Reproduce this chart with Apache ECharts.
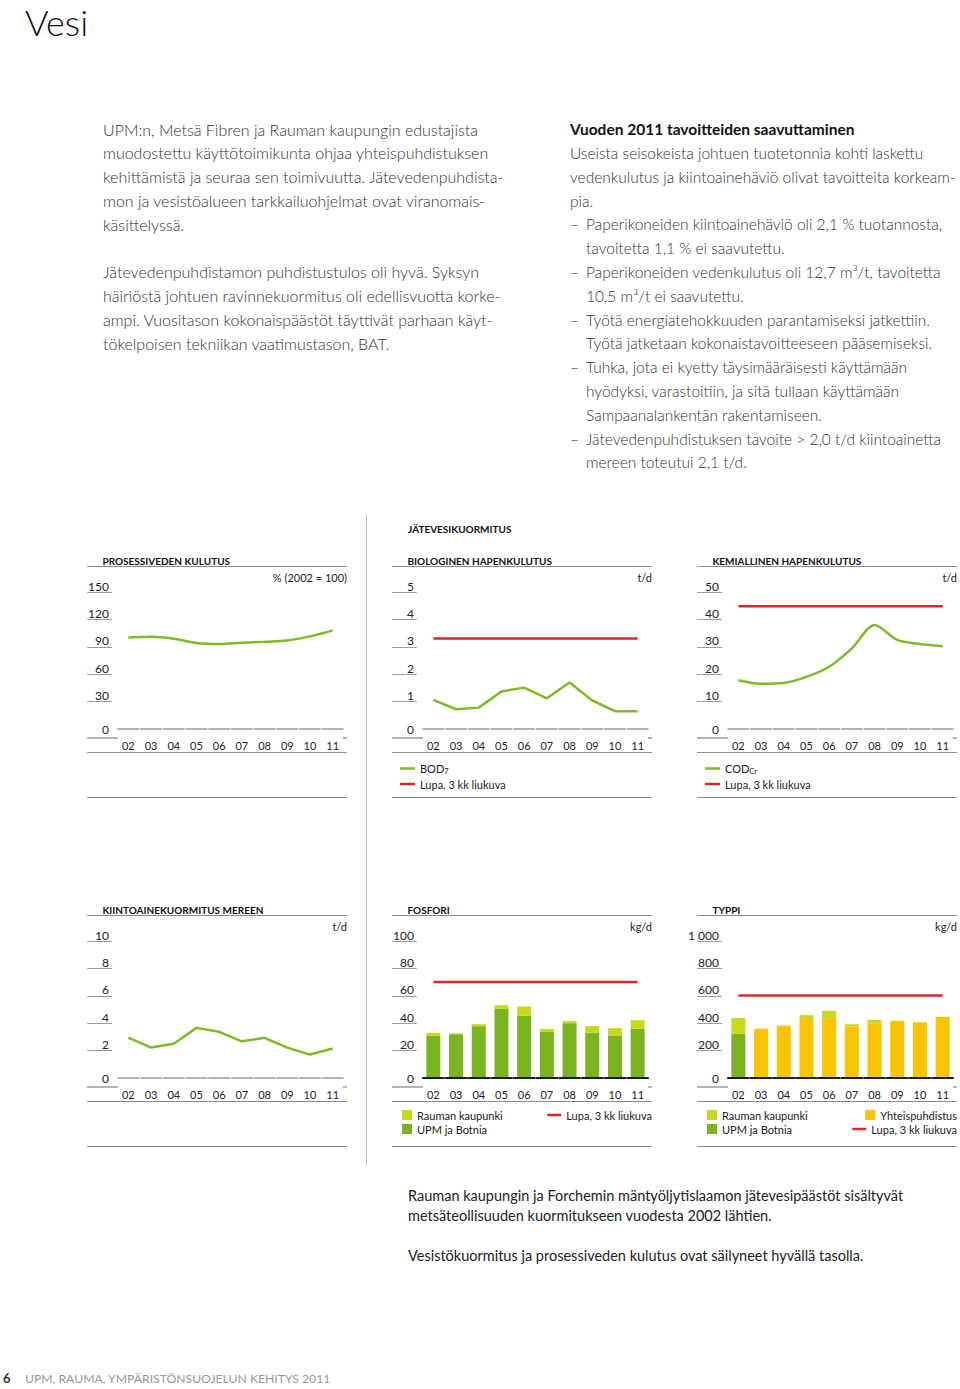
<!DOCTYPE html>
<html><head><meta charset="utf-8">
<script src="https://cdn.jsdelivr.net/npm/echarts@6/dist/echarts.min.js"></script>
<style>html,body{margin:0;padding:0;background:#fff}#c{width:960px;height:1389px}</style>
</head><body><div id="c"></div><script>
// ---------- DATA ----------
const years = ['02','03','04','05','06','07','08','09','10','11'];
const waterUse = [100.3, 101, 98.9, 94.2, 93, 94.5, 95.6, 97, 101.4, 108];
const waterTicks = [0, 30, 60, 90, 120, 150];
const bod7 = [1.06, 0.72, 0.78, 1.37, 1.51, 1.12, 1.7, 1.04, 0.65, 0.65];
const bodPermit = [3.3, 3.3, 3.3, 3.3, 3.3, 3.3, 3.3, 3.3, 3.3, 3.3];
const bodTicks = [0, 1, 2, 3, 4, 5];
const codCr = [17.8, 16.5, 16.8, 19, 22.7, 29.4, 38, 32.5, 31, 30.2];
const codPermit = [44.8, 44.8, 44.8, 44.8, 44.8, 44.8, 44.8, 44.8, 44.8, 44.8];
const codTicks = [0, 10, 20, 30, 40, 50];
const solids = [2.95, 2.22, 2.5, 3.66, 3.37, 2.68, 2.93, 2.22, 1.71, 2.15];
const solidsTicks = [0, 2, 4, 6, 8, 10];
const pUpm = [31, 32, 37.8, 50.5, 45.4, 33.6, 40, 33, 31, 36];
const pRauma = [2, 0.5, 1.5, 2.7, 6.8, 2.2, 1.5, 5, 5.4, 6.2];
const pPermit = [70, 70, 70, 70, 70, 70, 70, 70, 70, 70];
const pTicks = [0, 20, 40, 60, 80, 100];
const nUpm = [323, 0, 0, 0, 0, 0, 0, 0, 0, 0];
const nJoint = [0, 360, 382, 437, 437, 375, 400, 415, 407, 446];
const nRauma = [116, 0, 0, 22, 53, 17, 24, 3, 0, 0];
const nPermit = [603, 603, 603, 603, 603, 603, 603, 603, 603, 603];
const nTicks = [0, 200, 400, 600, 800, 1000];

const leftText = [
 'UPM:n, Metsä Fibren ja Rauman kaupungin edustajista',
 'muodostettu käyttötoimikunta ohjaa yhteispuhdistuksen',
 'kehittämistä ja seuraa sen toimivuutta. Jätevedenpuhdista-',
 'mon ja vesistöalueen tarkkailuohjelmat ovat viranomais-',
 'käsittelyssä.',
 '',
 'Jätevedenpuhdistamon puhdistustulos oli hyvä. Syksyn',
 'häiriöstä johtuen ravinnekuormitus oli edellisvuotta korke-',
 'ampi. Vuositason kokonaispäästöt täyttivät parhaan käyt-',
 'tökelpoisen tekniikan vaatimustason, BAT.'
];
const rightHeading = 'Vuoden 2011 tavoitteiden saavuttaminen';
const rightText = [
 ['', 'Useista seisokeista johtuen tuotetonnia kohti laskettu'],
 ['', 'vedenkulutus ja kiintoainehäviö olivat tavoitteita korkeam-'],
 ['', 'pia.'],
 ['–', 'Paperikoneiden kiintoainehäviö oli 2,1 % tuotannosta,'],
 ['', 'tavoitetta 1,1 % ei saavutettu.'],
 ['–', 'Paperikoneiden vedenkulutus oli 12,7 m³/t, tavoitetta'],
 ['', '10,5 m³/t ei saavutettu.'],
 ['–', 'Työtä energiatehokkuuden parantamiseksi jatkettiin.'],
 ['', 'Työtä jatketaan kokonaistavoitteeseen pääsemiseksi.'],
 ['–', 'Tuhka, jota ei kyetty täysimääräisesti käyttämään'],
 ['', 'hyödyksi, varastoitiin, ja sitä tullaan käyttämään'],
 ['', 'Sampaanalankentän rakentamiseen.'],
 ['–', 'Jätevedenpuhdistuksen tavoite > 2,0 t/d kiintoainetta'],
 ['', 'mereen toteutui 2,1 t/d.']
];
const rightIndented = [false, false, false, true, true, true, true, true, true, true, true, true, true, true];
const bottomText = [
 'Rauman kaupungin ja Forchemin mäntyöljytislaamon jätevesipäästöt sisältyvät',
 'metsäteollisuuden kuormitukseen vuodesta 2002 lähtien.',
 '',
 'Vesistökuormitus ja prosessiveden kulutus ovat säilyneet hyvällä tasolla.'
];

// ---------- LAYOUT / STYLE ----------
const FONT = 'Lato, "Noto Sans", sans-serif';
const GREEN_LINE = '#82b928', RED = '#d52b2f', UPM_GREEN = '#7ab51f', LIME = '#c9d81a', ORANGE = '#fbc400';
const AXIS_GRAY = '#9c9c9c';
const COLS = [87, 392, 697];
const ROWS = [592, 941];
const GW = 227, GH = 137;
const charts = [
 {col:0,row:0,title:'PROSESSIVEDEN KULUTUS',unit:'% (2002 = 100)',ticks:waterTicks},
 {col:1,row:0,title:'BIOLOGINEN HAPENKULUTUS',unit:'t/d',ticks:bodTicks},
 {col:2,row:0,title:'KEMIALLINEN HAPENKULUTUS',unit:'t/d',ticks:codTicks},
 {col:0,row:1,title:'KIINTOAINEKUORMITUS MEREEN',unit:'t/d',ticks:solidsTicks},
 {col:1,row:1,title:'FOSFORI',unit:'kg/d',ticks:pTicks,bars:true},
 {col:2,row:1,title:'TYPPI',unit:'kg/d',ticks:nTicks,bars:true}
];
const fmtNum = v => String(v).replace(/\B(?=(\d{3})+(?!\d))/g, ' ');

const grid = [], xAxis = [], yAxis = [], labX = [], graphic = [];
function line(x1, y1, x2, y2, stroke, w, z) {
  return {type:'line', silent:true, z: z || 1, shape:{x1, y1, x2, y2}, style:{stroke, lineWidth: w || 1}};
}
function txt(x, y, text, size, opts) {
  return {type:'text', silent:true, x, y, style: Object.assign({text, fontSize:size, fontFamily:FONT, fontWeight:400, fill:'#333', align:'left', verticalAlign:'middle'}, opts || {})};
}

charts.forEach((c, i) => {
  const L = COLS[c.col], top = ROWS[c.row];
  grid.push({left: L + 30, top, width: GW, height: GH});
  labX[i] = xAxis.length;
  xAxis.push({type:'category', gridIndex:i, data:years, position:'bottom', offset:9,
    axisLine:{show:true, lineStyle:{color:AXIS_GRAY, width:1.5, type:[20.7, 2], dashOffset:-1}},
    axisTick:{show:false}, splitLine:{show:false},
    axisLabel:{margin:2, fontSize:11, fontFamily:FONT, color:'#222'}});
  if (c.bars) {
    xAxis.push({type:'category', gridIndex:i, data:years, position:'bottom', offset:0, z:5,
      axisLine:{show:true, lineStyle:{color:'#1a1a1a', width:2, type:[20.7, 2], dashOffset:-1}},
      axisTick:{show:false}, axisLabel:{show:false}, splitLine:{show:false}});
  }
  const t = c.ticks, max = t[t.length - 1], step = t[1] - t[0];
  yAxis.push({type:'value', gridIndex:i, min:t[0], max, interval:step, position:'left', offset:5,
    axisLine:{show:false}, splitLine:{show:false},
    axisTick:{show:true, length:25, customValues:t.slice(1), lineStyle:{color:AXIS_GRAY, width:1}},
    axisLabel:{customValues:t.slice(1), margin:3, fontSize:12, fontFamily:FONT, color:'#222', verticalAlign:'bottom', align:'right', formatter:v => fmtNum(v)}});
  yAxis.push({type:'value', gridIndex:i, min:t[0], max, interval:step, position:'left', offset:5,
    axisLine:{show:false}, splitLine:{show:false}, axisTick:{show:false},
    axisLabel:{customValues:[t[0]], margin:3, fontSize:12, fontFamily:FONT, color:'#222', verticalAlign:'middle', align:'right', formatter:v => fmtNum(v)}});

  // decorations
  const ty = top - 31;            // title centre
  graphic.push(txt(L + 15.5, ty, c.title, 10, {fontWeight:700, fill:'#111'}));
  graphic.push(line(L, top - 25.5, L + 260, top - 25.5, '#8c8c8c', 1));
  graphic.push(txt(L + 260, top - 14.5, c.unit, 11, {align:'right', fill:'#222'}));
  const ay = top + GH + 9;
  graphic.push(line(L, ay, L + 31, ay, AXIS_GRAY, 1.5, 10));
  graphic.push(line(L + 256, ay, L + 260, ay, AXIS_GRAY, 1.5, 10));
  graphic.push(line(L, top + GH + 23.5, L + 260, top + GH + 23.5, '#8c8c8c', 1));
  graphic.push(line(L, top + GH + 68.5, L + 260, top + GH + 68.5, '#8c8c8c', 1));
});

function lineSeries(name, data, ci, color, smooth) {
  return {type:'line', name, data, xAxisIndex:labX[ci], yAxisIndex:2 * ci, smooth: smooth || false,
    showSymbol:false, symbol:'none', z:3, itemStyle:{color}, lineStyle:{color, width:2.5}};
}
function barSeries(name, data, ci, color, stack) {
  return {type:'bar', name, data, xAxisIndex:labX[ci], yAxisIndex:2 * ci, stack, barWidth:14,
    itemStyle:{color}, z:2};
}
const PERMIT = 'Lupa, 3 kk liukuva';
const series = [
  lineSeries('Prosessivesi', waterUse, 0, GREEN_LINE, 0.35),
  lineSeries(PERMIT, bodPermit, 1, RED),
  lineSeries('BOD7', bod7, 1, GREEN_LINE),
  lineSeries(PERMIT, codPermit, 2, RED),
  lineSeries('CODCr', codCr, 2, GREEN_LINE, 0.3),
  lineSeries('Kiintoaine', solids, 3, GREEN_LINE),
  barSeries('UPM ja Botnia', pUpm, 4, UPM_GREEN, 'p'),
  barSeries('Rauman kaupunki', pRauma, 4, LIME, 'p'),
  lineSeries(PERMIT, pPermit, 4, RED),
  barSeries('UPM ja Botnia', nUpm, 5, UPM_GREEN, 'n'),
  barSeries('Yhteispuhdistus', nJoint, 5, ORANGE, 'n'),
  barSeries('Rauman kaupunki', nRauma, 5, LIME, 'n'),
  lineSeries(PERMIT, nPermit, 5, RED)
];

const legText = {fontSize:11, fontFamily:FONT, color:'#222', lineHeight:13,
  rich:{sub:{fontSize:7.5, fontFamily:FONT, color:'#222', padding:[6, 0, 0, 0]}, n:{fontSize:11, fontFamily:FONT, color:'#222'}}};
const legFmt = n => n === 'BOD7' ? '{n|BOD}{sub|7}' : (n === 'CODCr' ? '{n|COD}{sub|Cr}' : n);
function legend(pos, data, iconW, iconH, gap) {
  return Object.assign({orient:'vertical', data, icon:'rect', itemWidth:iconW, itemHeight:iconH, itemGap:gap,
    padding:0, selectedMode:false, textStyle:legText, formatter:legFmt, itemStyle:{borderWidth:0}, lineStyle:{width:0}}, pos);
}
const legends = [
  legend({left:COLS[1] + 8, top:762}, ['BOD7', PERMIT], 15, 2.5, 2),
  legend({left:COLS[2] + 8, top:762}, ['CODCr', PERMIT], 15, 2.5, 2),
  legend({left:COLS[1] + 10, top:1108.5}, ['Rauman kaupunki', 'UPM ja Botnia'], 10, 10, 1),
  legend({right:960 - (COLS[1] + 260), top:1108.5}, [PERMIT], 14, 2.5, 1),
  legend({left:COLS[2] + 10, top:1108.5}, ['Rauman kaupunki', 'UPM ja Botnia'], 10, 10, 1),
  legend({right:3, top:1108.5}, ['Yhteispuhdistus'], 10, 10, 1),
  legend({right:3, top:1122.5}, [PERMIT], 14, 2.5, 1)
];

// page texts
graphic.push(txt(25, 22, 'Vesi', 36, {fontWeight:300, fill:'#111'}));
leftText.forEach((s, k) => { if (s) graphic.push(txt(103, 129 + k * 23.8, s, 16, {fontWeight:300, fill:'#333'})); });
graphic.push(txt(570, 129, rightHeading, 15.5, {fontWeight:700, fill:'#111'}));
rightText.forEach((r, k) => {
  const y = 153 + k * 23.8;
  if (r[0]) graphic.push(txt(570, y, r[0], 15.5, {fontWeight:300, fill:'#333'}));
  graphic.push(txt(rightIndented[k] ? 586 : 570, y, r[1], 15.5, {fontWeight:300, fill:'#333'}));
});
graphic.push(txt(408, 529, 'JÄTEVESIKUORMITUS', 10, {fontWeight:700, fill:'#111'}));
bottomText.forEach((s, k) => { if (s) graphic.push(txt(408, 1195 + k * 20, s, 14.5, {fill:'#222'})); });
graphic.push(txt(3, 1378, '6', 13, {fontWeight:700, fill:'#333'}));
graphic.push(txt(25, 1378, 'UPM, RAUMA, YMPÄRISTÖNSUOJELUN KEHITYS 2011', 12.2, {fill:'#999'}));
graphic.push(line(366.5, 515, 366.5, 1165, '#bdbdbd', 1));

const chart = echarts.init(document.getElementById('c'), null, {renderer:'svg'});
chart.setOption({
  animation:false,
  backgroundColor:'#fff',
  textStyle:{fontFamily:FONT},
  grid, xAxis, yAxis, series,
  legend: legends,
  graphic:{elements:graphic}
});
</script></body></html>
